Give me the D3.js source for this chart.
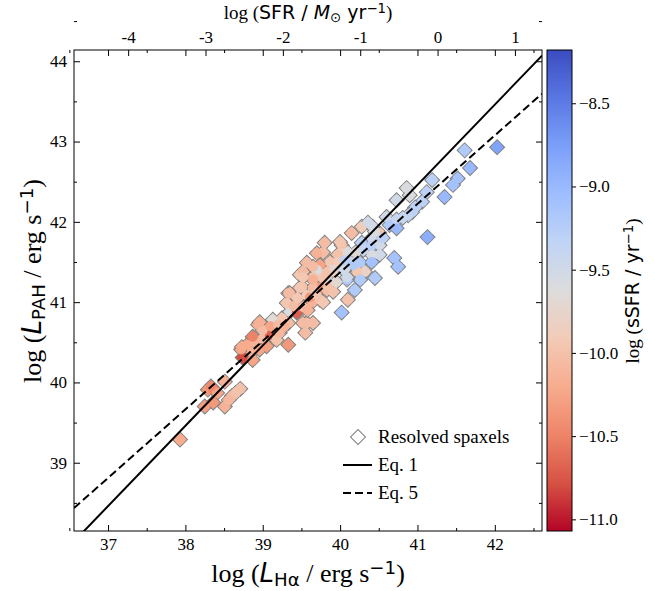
<!DOCTYPE html>
<html>
<head>
<meta charset="utf-8">
<script src="https://cdn.jsdelivr.net/npm/d3@7"></script>
<style>
body { margin: 0; background: #fff; }
svg { font-family: "Liberation Serif", "Times New Roman", serif; }
text { fill: #000; }
</style>
</head>
<body>
<svg width="655" height="591"></svg>
<script>
// resolved spaxels: log L(Halpha), log L(PAH), log sSFR
var lha = [37.93, 38.29, 38.36, 38.41, 38.51, 38.25, 38.36, 38.51, 38.60, 38.71, 38.65, 38.33, 38.56,
  38.74, 38.72, 38.86, 38.87, 38.80, 38.96, 38.90, 39.00, 39.09, 39.18, 39.33, 38.94, 39.00, 39.13,
  39.25, 39.35, 39.44, 39.33, 39.31, 39.33, 39.48, 39.51, 39.52, 39.55, 39.65, 39.57, 39.64, 39.74,
  39.78, 39.70, 39.83, 39.74, 40.02, 39.05, 39.15, 39.22,
  40.15, 40.28, 40.36, 40.60, 40.64, 40.51, 40.41, 40.28, 40.51, 40.51, 40.41, 40.26, 40.41, 40.32,
  40.22, 40.26, 40.45, 40.19, 40.02, 40.02, 40.10, 40.15, 40.09, 39.78, 39.97, 39.96, 39.87, 39.91,
  39.74, 39.84, 39.70, 39.57, 39.52, 39.65, 39.78, 39.74, 39.65, 39.61, 39.35, 40.09, 40.10, 40.00, 39.80,
  42.03, 41.61, 41.68, 41.52, 41.46, 41.35, 41.19, 41.12, 40.86, 40.90, 40.73, 41.06, 40.97, 40.93,
  40.88, 40.81, 40.73, 40.73, 41.13, 40.42, 40.70, 40.75,
  38.96, 38.87, 38.73, 39.52, 39.57, 39.48, 39.83, 39.91, 39.91, 39.65, 39.83, 39.65, 39.52,
  39.70, 40.06, 40.09, 40.17, 39.10, 39.20, 39.28, 39.40, 39.45, 39.58, 39.68, 39.85, 39.95, 40.05,
  40.20, 40.30, 40.40, 40.55, 40.45];
var lpah = [39.29, 39.91, 39.92, 39.87, 40.01, 39.70, 39.75, 39.70, 39.83, 39.92, 39.87, 39.95, 39.78,
  40.31, 40.41, 40.38, 40.28, 40.47, 40.41, 40.50, 40.55, 40.59, 40.53, 40.47, 40.72, 40.65, 40.78,
  40.80, 40.88, 40.87, 40.74, 40.99, 41.11, 41.34, 41.19, 40.74, 40.62, 40.74, 41.09, 41.00, 41.03,
  41.00, 41.18, 41.30, 41.36, 40.87, 40.45, 40.68, 40.62,
  41.86, 41.94, 41.99, 42.06, 41.96, 41.86, 41.80, 41.74, 41.71, 41.59, 41.59, 41.49, 41.50, 41.38,
  41.38, 41.28, 41.30, 41.15, 41.71, 41.61, 41.62, 41.50, 41.46, 41.62, 41.59, 41.50, 41.50, 41.40,
  41.46, 41.38, 41.40, 41.49, 41.38, 41.31, 41.30, 41.18, 41.18, 41.06, 41.11, 41.28, 41.03, 41.75, 41.74,
  42.93, 42.89, 42.67, 42.54, 42.46, 42.31, 42.52, 42.37, 42.42, 42.33, 42.27, 42.25, 42.18, 42.12,
  42.08, 42.05, 42.03, 41.92, 41.81, 41.94, 41.55, 41.44,
  40.75, 40.57, 40.44, 40.94, 40.74, 41.18, 41.15, 41.13, 41.38, 41.28, 41.34, 41.44, 41.31,
  41.61, 41.52, 41.31, 41.46, 40.70, 40.72, 40.70, 40.95, 41.05, 40.90, 41.10, 41.20, 41.25, 41.40,
  41.62, 41.65, 41.70, 41.80, 41.88];
var ssfr = [-10.20, -10.35, -10.50, -10.25, -10.15, -10.30, -10.35, -10.15, -10.05, -10.00, -10.00, -10.45, -10.10,
  -10.80, -10.25, -10.15, -10.25, -10.20, -10.25, -10.15, -10.05, -10.70, -10.00, -10.35, -10.15, -10.05, -9.65,
  -9.95, -9.60, -10.70, -10.05, -9.95, -10.05, -9.95, -10.00, -10.05, -10.05, -10.05, -9.90, -10.15, -10.00,
  -9.95, -9.95, -9.50, -9.95, -9.10, -10.30, -10.15, -10.10,
  -10.05, -9.90, -9.50, -9.50, -9.20, -10.00, -9.50, -9.30, -9.50, -9.50, -9.60, -9.20, -9.10, -9.80,
  -9.95, -9.20, -9.20, -9.20, -10.00, -9.90, -9.60, -9.40, -9.80, -10.05, -10.00, -9.90, -9.95, -9.60,
  -10.25, -10.00, -9.60, -10.05, -10.05, -10.00, -9.95, -10.35, -10.05, -10.35, -10.05, -9.20, -10.00, -9.95, -10.05,
  -8.80, -9.20, -9.00, -9.10, -9.10, -9.00, -9.30, -9.30, -9.60, -9.60, -9.50, -9.30, -9.30, -9.30,
  -9.35, -9.40, -9.40, -9.00, -8.90, -9.50, -9.10, -9.10,
  -10.15, -10.50, -10.20, -10.05, -10.05, -9.95, -10.05, -10.00, -9.80, -10.15, -10.00, -10.05, -9.95,
  -10.15, -9.30, -9.50, -9.20, -10.25, -10.05, -10.15, -10.05, -9.95, -10.15, -9.95, -10.00, -9.70, -9.50,
  -9.70, -9.40, -9.30, -9.30, -9.60];

var xTicks = [37, 38, 39, 40, 41, 42];
var yTicks = [39, 40, 41, 42, 43, 44];
var sfrTicks = [-4, -3, -2, -1, 0, 1];
var cbTicks = [-8.5, -9.0, -9.5, -10.0, -10.5, -11.0];
var sfrOffset = 41.26;   // log SFR = log L(Halpha) - 41.26

// relations: log L(PAH) = at40 + slope * (log L(Halpha) - 40)
var eqNames = ["Eq. 1", "Eq. 5"];
var eqSlope = [1.0, 0.853];
var eqAt40 = [41.46, 41.37];
var eqDash = [null, "8,4"];

// matplotlib coolwarm, sampled every 0.1
var coolwarm = ["#3b4cc0", "#5977e3", "#7b9ff9", "#9ebeff", "#c0d4f5", "#dddcdc",
                "#f2cbb7", "#f7ac8e", "#ee8468", "#d65244", "#b40426"];

var svg = d3.select("svg"),
    mL = 74, mR = 542, mT = 50, mB = 531;

var x = d3.scaleLinear().domain([36.56, 42.61]).range([mL, mR]);
var y = d3.scaleLinear().domain([38.15, 44.14]).range([mB, mT]);
var xTop = d3.scaleLinear().domain(x.domain().map(function(d) { return d - sfrOffset; })).range([mL, mR]);

var cmin = -11.07, cmax = -8.18;
var cw = d3.scaleLinear().domain(d3.range(11).map(function(i) { return i / 10; })).range(coolwarm);
function color(v) { return cw(1 - (v - cmin) / (cmax - cmin)); }

var serif = "'Liberation Serif', 'Times New Roman', serif",
    sans = "'DejaVu Sans', sans-serif";

svg.append("defs").append("clipPath").attr("id", "clip")
  .append("rect").attr("x", mL).attr("y", mT).attr("width", mR - mL).attr("height", mB - mT);

// points
var pts = d3.range(lha.length).map(function(i) { return {x: lha[i], y: lpah[i], c: ssfr[i]}; });
var plot = svg.append("g").attr("clip-path", "url(#clip)");
var diamond = d3.symbol().type(d3.symbolSquare).size(112);

plot.append("g").selectAll("path")
    .data(pts)
  .enter().append("path")
    .attr("d", diamond)
    .attr("transform", function(d) { return "translate(" + x(d.x) + "," + y(d.y) + ") rotate(45)"; })
    .attr("fill", function(d) { return color(d.c); })
    .attr("stroke", "#808080")
    .attr("stroke-width", 1);

plot.append("g").selectAll("circle")
    .data(pts)
  .enter().append("circle")
    .attr("cx", function(d) { return x(d.x); })
    .attr("cy", function(d) { return y(d.y); })
    .attr("r", 5)
    .attr("fill", function(d) { return color(d.c); });

// relations
var rel = eqNames.map(function(n, i) { return {name: n, slope: eqSlope[i], at40: eqAt40[i], dash: eqDash[i]}; });
var line = d3.line()
    .x(function(p) { return x(p[0]); })
    .y(function(p) { return y(p[1]); });
plot.selectAll(".rel")
    .data(rel)
  .enter().append("path")
    .attr("class", "rel")
    .attr("d", function(d) {
      return line(x.domain().map(function(v) { return [v, d.at40 + d.slope * (v - 40)]; }));
    })
    .attr("fill", "none")
    .attr("stroke", "#000")
    .attr("stroke-width", 2)
    .attr("stroke-dasharray", function(d) { return d.dash; });

// axes
function half(ticks) {
  return ticks.map(function(t) { return t + 0.5; }).concat([ticks[0] - 0.5]);
}
function styleAxis(g, size) {
  g.attr("font-family", null).attr("font-size", null);
  g.select(".domain").remove();
  g.selectAll("line").attr("stroke", "#000").attr("stroke-width", 1);
  g.selectAll("text").attr("font-family", serif).style("font-family", serif).style("font-size", size + "px");
}

svg.append("g").attr("transform", "translate(0," + mB + ")")
    .call(d3.axisBottom(x).tickValues(xTicks).tickSize(-6).tickPadding(7).tickFormat(d3.format("d")))
    .call(styleAxis, 17);
svg.append("g").attr("transform", "translate(0," + mB + ")")
    .call(d3.axisBottom(x).tickValues(half(xTicks)).tickSize(-3).tickFormat(""))
    .call(styleAxis, 17);
svg.append("g").attr("transform", "translate(0," + mT + ")")
    .call(d3.axisTop(x).tickValues(xTicks).tickSize(-6).tickFormat(""))
    .call(styleAxis, 17);
svg.append("g").attr("transform", "translate(0," + mT + ")")
    .call(d3.axisTop(x).tickValues(half(xTicks)).tickSize(-3).tickFormat(""))
    .call(styleAxis, 17);
svg.append("g").attr("transform", "translate(0," + mT + ")")
    .call(d3.axisTop(xTop).tickValues(sfrTicks).tickSize(-6).tickPadding(7)
      .tickFormat(function(d) { return String(d); }))
    .call(styleAxis, 17);

svg.append("g").attr("transform", "translate(" + mL + ",0)")
    .call(d3.axisLeft(y).tickValues(yTicks).tickSize(-6).tickPadding(7).tickFormat(d3.format("d")))
    .call(styleAxis, 17);
svg.append("g").attr("transform", "translate(" + mL + ",0)")
    .call(d3.axisLeft(y).tickValues(half(yTicks)).tickSize(-3).tickFormat(""))
    .call(styleAxis, 17);
svg.append("g").attr("transform", "translate(" + mR + ",0)")
    .call(d3.axisRight(y).tickValues(yTicks).tickSize(-6).tickFormat(""))
    .call(styleAxis, 17);
svg.append("g").attr("transform", "translate(" + mR + ",0)")
    .call(d3.axisRight(y).tickValues(half(yTicks)).tickSize(-3).tickFormat(""))
    .call(styleAxis, 17);

svg.append("rect")
    .attr("x", mL).attr("y", mT)
    .attr("width", mR - mL).attr("height", mB - mT)
    .attr("fill", "none").attr("stroke", "#000").attr("stroke-width", 1);

// legend
var lg = svg.append("g");
lg.append("path")
    .attr("d", diamond)
    .attr("transform", "translate(358,437) rotate(45)")
    .attr("fill", "#fff").attr("stroke", "#808080").attr("stroke-width", 1);
lg.append("text").attr("x", 378).attr("y", 443).text("Resolved spaxels");
rel.forEach(function(d, i) {
  var ly = 465 + i * 28;
  lg.append("line").attr("x1", 343).attr("x2", 372).attr("y1", ly).attr("y2", ly)
      .attr("stroke", "#000").attr("stroke-width", 2)
      .attr("stroke-dasharray", d.dash);
  lg.append("text").attr("x", 378).attr("y", ly + 6).text(d.name);
});
lg.selectAll("text").style("font-family", serif).style("font-size", "19px");

// colorbar
var cbX = 547, cbW = 25;
var cy = d3.scaleLinear().domain([cmin, cmax]).range([mB, mT]);
var grad = svg.select("defs").append("linearGradient")
    .attr("id", "cbgrad").attr("x1", 0).attr("y1", 0).attr("x2", 0).attr("y2", 1);
d3.range(0, 1.0001, 0.05).forEach(function(t) {
  grad.append("stop").attr("offset", t).attr("stop-color", color(cmax - t * (cmax - cmin)));
});
svg.append("rect")
    .attr("x", cbX).attr("y", mT).attr("width", cbW).attr("height", mB - mT)
    .attr("fill", "url(#cbgrad)").attr("stroke", "#000").attr("stroke-width", 1);
svg.append("g").attr("transform", "translate(" + (cbX + cbW) + ",0)")
    .call(d3.axisRight(cy).tickValues(cbTicks).tickSize(4).tickPadding(3)
      .tickFormat(function(d) { return "\u2212" + Math.abs(d).toFixed(1); }))
    .call(styleAxis, 17);

// axis titles
function title(t, size, parts) {
  t.style("font-size", size + "px");
  parts.forEach(function(p) {
    t.append("tspan")
      .text(p[0])
      .style("font-family", p[1] === "r" ? serif : sans)
      .style("font-style", p[2] ? "italic" : "normal")
      .style("font-size", p[3] ? "0.7em" : null)
      .attr("dy", p[4] || null);
  });
}
title(svg.append("text").attr("x", 308).attr("y", 582).attr("text-anchor", "middle"), 26,
  [["log (", "r"], ["L", "s", true], ["H\u03b1", "s", false, true, "0.22em"],
   [" / erg s", "r", false, false, "-0.154em"], ["\u22121", "s", false, true, "-0.45em"], [")", "r", false, false, "0.315em"]]);

title(svg.append("text").attr("transform", "translate(41,281) rotate(-90)").attr("text-anchor", "middle"), 26,
  [["log (", "r"], ["L", "s", true], ["PAH", "s", false, true, "0.22em"],
   [" / erg s", "r", false, false, "-0.154em"], ["\u22121", "s", false, true, "-0.45em"], [")", "r", false, false, "0.315em"]]);

title(svg.append("text").attr("x", 308).attr("y", 19).attr("text-anchor", "middle"), 19,
  [["log (", "r"], ["SFR / ", "s"], ["M", "s", true], ["\u2299", "s", false, true, "0.22em"],
   [" yr", "s", false, false, "-0.154em"], ["\u22121", "s", false, true, "-0.45em"], [")", "r", false, false, "0.315em"]]);

title(svg.append("text").attr("transform", "translate(639,291) rotate(-90)").attr("text-anchor", "middle"), 19,
  [["log (", "r"], ["sSFR / yr", "s"], ["\u22121", "s", false, true, "-0.45em"], [")", "r", false, false, "0.315em"]]);
</script>
</body>
</html>
